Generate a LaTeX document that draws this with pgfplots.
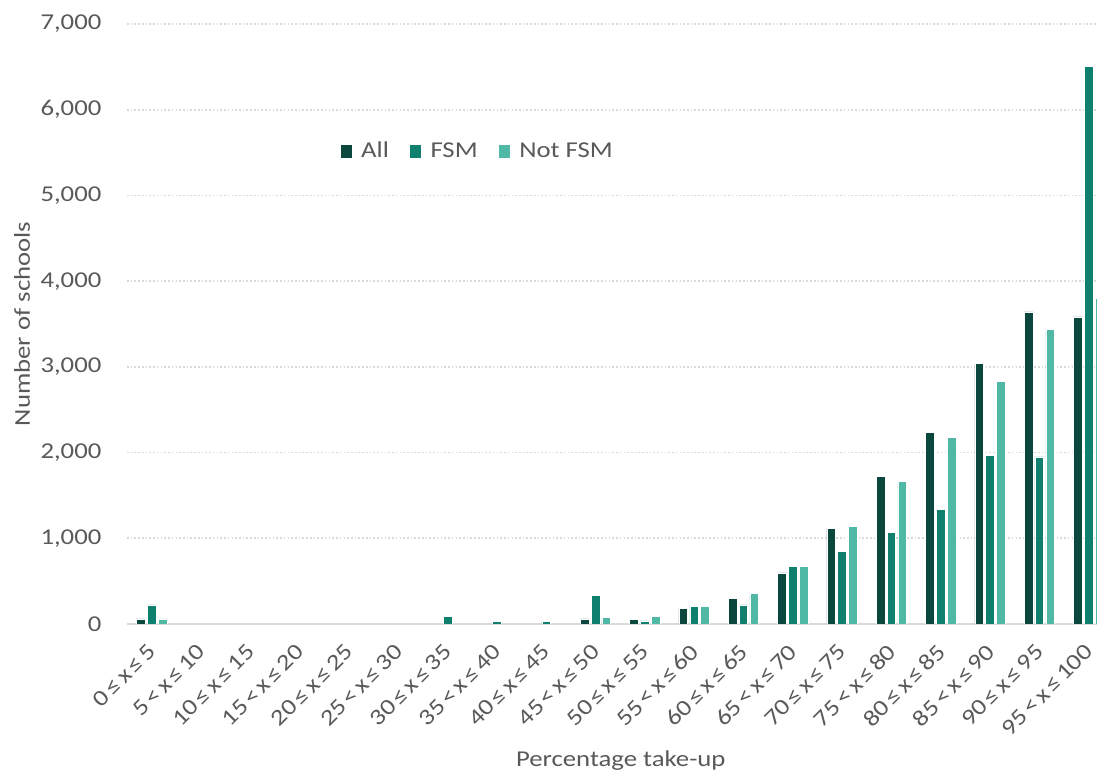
\documentclass[border=0pt]{standalone}
\usepackage{pgfplots}
\pgfplotsset{compat=1.18}
\usepackage{fontspec}
\setmainfont{Carlito}[FakeStretch=1.18]
\definecolor{cAll}{HTML}{0A483E}
\definecolor{cFSM}{HTML}{10806E}
\definecolor{cNot}{HTML}{4FB9A6}
\definecolor{tgray}{HTML}{595959}
\definecolor{lgray}{HTML}{D9D9D9}
\newcommand\ts{\hspace{0.14em}}
\begin{document}
\fontsize{17}{20}\selectfont
\begin{tikzpicture}
\useasboundingbox (0,0) rectangle (822.75pt,579.75pt);
\begin{axis}[
  at={(95.25pt,111.75pt)}, anchor=south west,
  scale only axis, width=727.5pt, height=450pt,
  xmin=-0.5, xmax=19.17, ymin=0, ymax=7000,
  ytick={0,1000,...,7000},
  xtick={0,...,19},
  xticklabels={0\ts≤\ts x\ts≤\ts5, 5\ts<\ts x\ts≤\ts10, 10\ts≤\ts x\ts≤\ts15, 15\ts<\ts x\ts≤\ts20, 20\ts≤\ts x\ts≤\ts25, 25\ts<\ts x\ts≤\ts30, 30\ts≤\ts x\ts≤\ts35, 35\ts<\ts x\ts≤\ts40, 40\ts≤\ts x\ts≤\ts45, 45\ts<\ts x\ts≤\ts50, 50\ts≤\ts x\ts≤\ts55, 55\ts<\ts x\ts≤\ts60, 60\ts≤\ts x\ts≤\ts65, 65\ts<\ts x\ts≤\ts70, 70\ts≤\ts x\ts≤\ts75, 75\ts<\ts x\ts≤\ts80, 80\ts≤\ts x\ts≤\ts85, 85\ts<\ts x\ts≤\ts90, 90\ts≤\ts x\ts≤\ts95, 95\ts<\ts x\ts≤\ts100},
  major tick length=0pt,
  axis lines*=left,
  y axis line style={draw=none},
  x axis line style={draw=lgray, line width=1.5pt},
  ymajorgrids,
  grid style={draw=lgray, line width=1.2pt, dash pattern=on 1.2pt off 1.6pt},
  /pgf/number format/1000 sep={,},
  /pgf/number format/assume math mode=true,
  tick label style={color=tgray, font=\fontsize{17}{20}\selectfont},
  yticklabel style={anchor=east, inner sep=0pt, xshift=-19pt},
  xticklabel style={xshift=-3.75pt, yshift=-13.8pt, rotate=45, anchor=north east, inner sep=0pt},
  ylabel={Number of schools},
  ylabel style={at={(axis description cs:-0.1082,0.5)}, anchor=center, color=tgray, font=\fontsize{17}{20}\selectfont},
  xlabel={Percentage take-up},
  xlabel style={at={(axis description cs:0.509,-0.227)}, anchor=center, color=tgray, font=\fontsize{17}{20}\selectfont},
  ybar, bar width=6.5pt,
  legend style={at={(axis description cs:0.362,0.787)}, anchor=center, draw=none, fill=none,
    legend columns=-1, text=tgray, font=\fontsize{17}{20}\selectfont,
    /tikz/every odd column/.append style={column sep=5pt},
    /tikz/every even column/.append style={column sep=14pt}},
  legend image code/.code={\path[#1, draw=none] (0pt,-4.9pt) rectangle (8.25pt,4.9pt);},
]
\addplot[fill=cAll, draw=white, line width=0.4pt, bar shift=-8.1pt] coordinates {
 (0,60) (9,60) (10,50) (11,178) (12,297) (13,595) (14,1115) (15,1725) (16,2235) (17,3038) (18,3640) (19,3582)};
\addplot[fill=cFSM, draw=white, line width=0.4pt, bar shift=0pt] coordinates {
 (0,224) (6,91) (7,30) (8,30) (9,332) (10,35) (11,208) (12,224) (13,670) (14,843) (15,1069) (16,1337) (17,1966) (18,1950) (19,6503)};
\addplot[fill=cNot, draw=white, line width=0.4pt, bar shift=8.1pt] coordinates {
 (0,60) (9,76) (10,87) (11,208) (12,356) (13,670) (14,1142) (15,1667) (16,2176) (17,2832) (18,3435) (19,3803)};
\legend{All, FSM, Not FSM}
\end{axis}
\end{tikzpicture}
\end{document}
